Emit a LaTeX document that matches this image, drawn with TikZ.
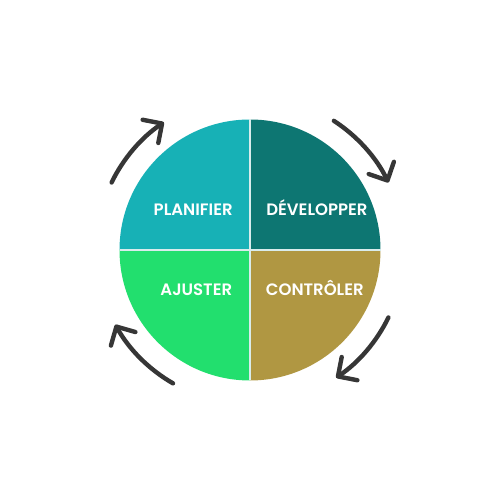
\documentclass[tikz,border=0pt]{standalone}
\usepackage{fontspec}
\newfontfamily\phasefont{Poppins}[UprightFont=* SemiBold]
\usetikzlibrary{arrows.meta}

\definecolor{plancol}{HTML}{17B1B6}
\definecolor{devcol}{HTML}{0D7672}
\definecolor{ajustcol}{HTML}{22DF6E}
\definecolor{ctrlcol}{HTML}{B09742}
\definecolor{arrowgray}{HTML}{363636}

\begin{document}
\begin{tikzpicture}

\useasboundingbox (0,0) rectangle (10,10);

\tikzset{
  phase/.style={text=white, inner sep=0pt, font=\phasefont\fontsize{9.4}{11}\selectfont},
  turnarrow/.style={draw=arrowgray, line width=2.5pt, line cap=round,
    -{Straight Barb[length=2.8mm, width=5.6mm, line cap=round, line join=round]}}
}

\coordinate (c) at (5,5);

% quarters
\foreach \col/\a in {devcol/0, plancol/90, ajustcol/180, ctrlcol/270}
\fill[\col] (c) -- ++(\a:2.61) arc (\a:\a+90:2.61) -- cycle;

\coordinate (w) at (2.39,5);
\coordinate (e) at (7.61,5);
\coordinate (n) at (5,7.61);
\coordinate (s) at (5,2.39);
\draw[white!85!teal, line width=0.9pt] (w) -- (e);
\draw[white!85!teal, line width=0.9pt] (n) -- (s);

\node[phase, anchor=base east] (plan) at (4.66,5.68) {PLANIFIER};
\node[phase, anchor=base west] (dev) at (5.32,5.68) {DÉVELOPPER};
\node[phase, anchor=base east] (ajust) at (4.65,4.08) {AJUSTER};
\node[phase, anchor=base west] (ctrl) at (5.31,4.08) {CONTRÔLER};

% arrows
\foreach \s/\e in {154/124, 57/26, -26/-56, 240/209}
{
\coordinate (a\s) at ([shift={(\s:3.08)}]c);
\draw[turnarrow] (a\s) arc[start angle=\s, end angle=\e, radius=3.08];
}

\end{tikzpicture}
\end{document}
